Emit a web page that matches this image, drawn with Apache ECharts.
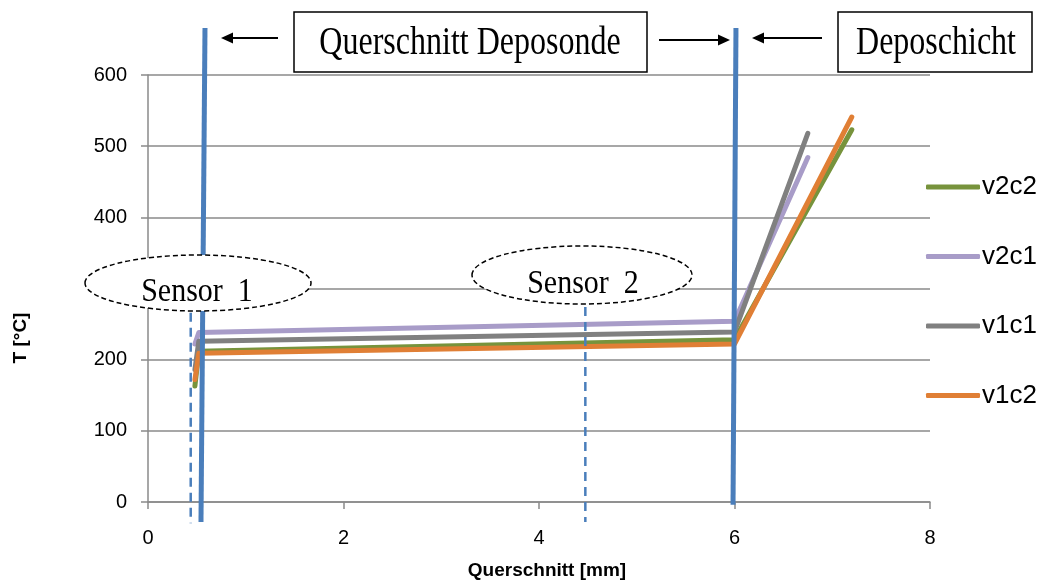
<!DOCTYPE html>
<html>
<head>
<meta charset="utf-8">
<script src="https://cdn.jsdelivr.net/npm/echarts@6/dist/echarts.min.js"></script>
<style>
  html, body { margin: 0; padding: 0; background: #fff; }
  #chart { width: 1037px; height: 581px; }
</style>
</head>
<body>
<div id="chart"></div>
<script>
// Temperature profile across the probe wall and the deposit layer
const seriesNames = ['v2c2', 'v2c1', 'v1c1', 'v1c2'];
const seriesColors = ['#77933C', '#A89CC8', '#808080', '#E07F35'];

// position [mm] / temperature [°C] pairs per run
const v2c2X = [0.48, 0.52, 6.0, 7.2];
const v2c2T = [163, 212, 228, 523];
const v2c1X = [0.48, 0.52, 6.0, 6.75];
const v2c1T = [222, 238, 254, 484];
const v1c1X = [0.48, 0.52, 6.0, 6.75];
const v1c1T = [186, 226, 239, 518];
const v1c2X = [0.48, 0.52, 6.0, 7.2];
const v1c2T = [172, 209, 222, 541];

// probe wall boundaries (solid) and thermocouple positions (dashed)
const wallInnerX = [0.583, 0.542];
const wallInnerT = [666, -28];
const wallOuterX = [6.015, 5.985];
const wallOuterT = [666, -4];
const sensor1X = [0.437, 0.437];
const sensor1T = [266, -30];
const sensor2X = [4.474, 4.474];
const sensor2T = [274, -28];

const xTicks = { min: 0, max: 8, interval: 2 };
const yTicks = { min: 0, max: 600, interval: 100 };

const zip = (xs, ys) => xs.map((x, i) => [x, ys[i]]);

const labelFont = "'Liberation Sans', Arial, sans-serif";
const serif = "'Liberation Serif', 'DejaVu Serif', serif";
const axisGray = '#8A8A8A';
const wallBlue = '#4A7EBB';

const dataSeries = [
  [v2c2X, v2c2T], [v2c1X, v2c1T], [v1c1X, v1c1T], [v1c2X, v1c2T]
].map(([xs, ts], i) => ({
  name: seriesNames[i],
  type: 'line',
  data: zip(xs, ts),
  symbol: 'none',
  z: 2 + i * 0.1,
  lineStyle: { color: seriesColors[i], width: 5, cap: 'round', join: 'round' },
  itemStyle: { color: seriesColors[i] },
  emphasis: { disabled: true },
  animation: false
}));

function marker(name, xs, ts, dashed, width) {
  return {
    name: name,
    type: 'line',
    data: zip(xs, ts),
    symbol: 'none',
    clip: false,
    silent: true,
    z: 5,
    lineStyle: { color: wallBlue, width: width, type: dashed ? [9, 6] : 'solid' },
    emphasis: { disabled: true },
    animation: false
  };
}

function arrow(x1, x2, y) {
  // shaft from x1 to the head tip at x2
  const dir = x2 > x1 ? 1 : -1;
  const base = x2 - dir * 12;
  return [
    { type: 'line', z: 100, shape: { x1: x1, y1: y, x2: base, y2: y },
      style: { stroke: '#000', lineWidth: 2 } },
    { type: 'polygon', z: 100, shape: { points: [[x2, y], [base, y - 5.5], [base, y + 5.5]] },
      style: { fill: '#000' } }
  ];
}

function serifText(str, x, y, size, sy) {
  return {
    type: 'text', z: 101, x: x, y: y, scaleY: sy,
    style: { text: str, font: size + 'px ' + serif, fill: '#000',
             textAlign: 'center', textVerticalAlign: 'middle' }
  };
}

const chart = echarts.init(document.getElementById('chart'), null, { renderer: 'canvas' });

chart.setOption({
  animation: false,
  backgroundColor: '#fff',
  grid: { left: 148, right: 107, top: 75, bottom: 79, containLabel: false, outerBoundsMode: 'none' },
  xAxis: {
    type: 'value',
    min: xTicks.min, max: xTicks.max, interval: xTicks.interval,
    name: 'Querschnitt [mm]',
    nameLocation: 'middle',
    nameGap: 59,
    nameTextStyle: { fontFamily: labelFont, fontWeight: 'bold', fontSize: 19, color: '#000',
                     padding: [0, 0, 0, 16] },
    axisLine: { show: true, onZero: false, lineStyle: { color: axisGray, width: 1.5 } },
    axisTick: { show: true, length: 7, lineStyle: { color: axisGray, width: 1.5 } },
    axisLabel: { margin: 26, fontFamily: labelFont, fontSize: 20, color: '#000' },
    splitLine: { show: false }
  },
  yAxis: {
    type: 'value',
    min: yTicks.min, max: yTicks.max, interval: yTicks.interval,
    axisLine: { show: true, lineStyle: { color: axisGray, width: 1.5 } },
    axisTick: { show: true, length: 7, lineStyle: { color: axisGray, width: 1.5 } },
    axisLabel: { margin: 21, fontFamily: labelFont, fontSize: 20, color: '#000' },
    splitLine: { show: true, lineStyle: { color: axisGray, width: 1.5 } }
  },
  legend: {
    data: seriesNames,
    orient: 'vertical',
    left: 921,
    top: 167,
    icon: 'roundRect',
    itemWidth: 54,
    itemHeight: 5,
    itemGap: 39.5,
    selectedMode: false,
    textStyle: { fontFamily: labelFont, fontSize: 26, lineHeight: 30, color: '#000', padding: [0, 0, 0, -3] }
  },
  series: dataSeries.concat([
    marker('Sensor 1 Lage', sensor1X, sensor1T, true, 2.5),
    marker('Sensor 2 Lage', sensor2X, sensor2T, true, 2.5),
    marker('Wand innen', wallInnerX, wallInnerT, false, 5),
    marker('Wand außen', wallOuterX, wallOuterT, false, 5)
  ]),
  graphic: [
    // vertical axis title
    { type: 'text', z: 101, x: 21, y: 338, rotation: Math.PI / 2,
      style: { text: 'T [°C]', font: 'bold 19px ' + labelFont, fill: '#000',
               textAlign: 'center', textVerticalAlign: 'middle' } },
    // thermocouple callouts
    { type: 'ellipse', z: 100, shape: { cx: 198, cy: 283, rx: 113, ry: 28 },
      style: { fill: '#fff', stroke: '#000', lineWidth: 1.5, lineDash: [5, 3] } },
    serifText('Sensor  1', 197, 292, 30, 1.15),
    { type: 'ellipse', z: 100, shape: { cx: 582, cy: 275, rx: 110, ry: 29 },
      style: { fill: '#fff', stroke: '#000', lineWidth: 1.5, lineDash: [5, 3] } },
    serifText('Sensor  2', 583, 284, 30, 1.15),
    // region captions
    { type: 'rect', z: 100, shape: { x: 294, y: 12, width: 353, height: 60 },
      style: { fill: '#fff', stroke: '#000', lineWidth: 1.5 } },
    serifText('Querschnitt Deposonde', 470, 43, 32, 1.25),
    { type: 'rect', z: 100, shape: { x: 838, y: 12, width: 194, height: 60 },
      style: { fill: '#fff', stroke: '#000', lineWidth: 1.5 } },
    serifText('Deposchicht', 936, 43, 32, 1.25)
  ].concat(arrow(278, 221, 38), arrow(659, 730, 40), arrow(822, 752, 38))
});
</script>
</body>
</html>
